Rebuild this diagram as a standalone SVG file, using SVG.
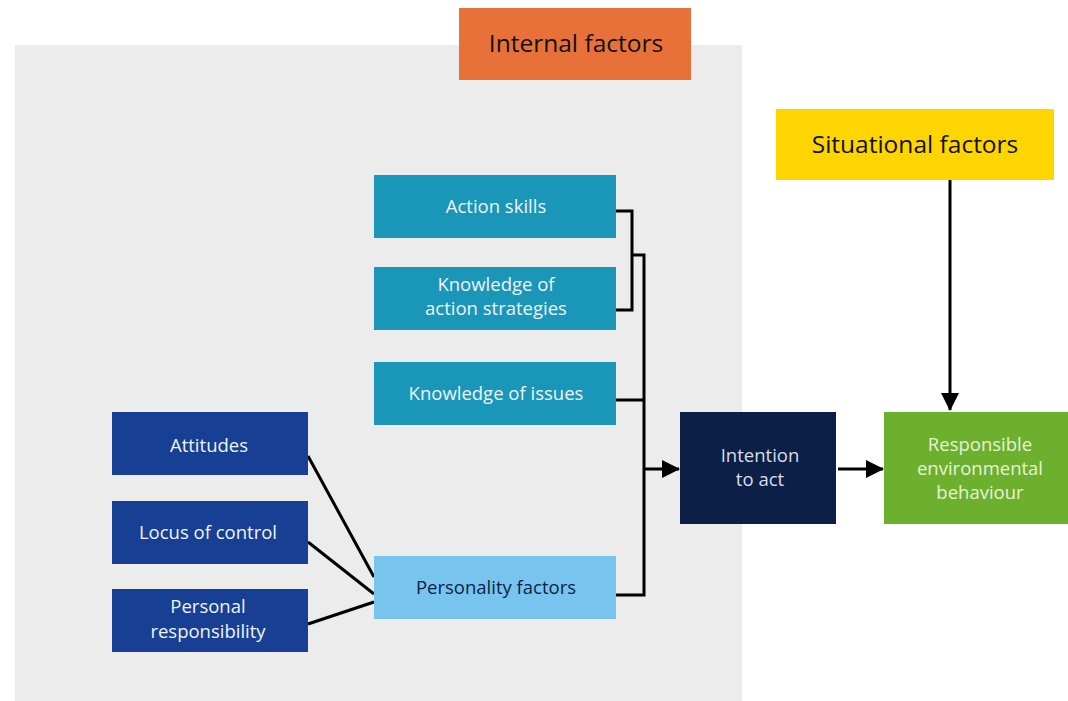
<svg xmlns="http://www.w3.org/2000/svg" width="1068" height="701" viewBox="0 0 1068 701">
  <style>
    .lbl { font-family: "Open Sans", "Noto Sans", "DejaVu Sans", sans-serif; font-size: 18.5px; fill: #eef3f6; text-anchor: middle; }
    .big { font-family: "Open Sans", "Noto Sans", "DejaVu Sans", sans-serif; font-size: 24.5px; fill: #111; text-anchor: middle; }
    .wire { fill: none; stroke: #000; stroke-width: 3; }
  </style>
  <defs>
    <marker id="head" markerWidth="18" markerHeight="18" refX="17" refY="9" orient="auto" markerUnits="userSpaceOnUse">
      <path d="M0,0 L18,9 L0,18 Z" fill="#000"/>
    </marker>
  </defs>

  <rect width="1068" height="701" fill="#ffffff"/>

  <!-- internal factors panel -->
  <rect id="internal-panel" x="15" y="45" width="727" height="656" fill="#ececec"/>

  <g id="internal-factors">
    <rect x="459" y="8" width="232" height="72" fill="#e8713a"/>
    <text class="big" x="576" y="52">Internal factors</text>
  </g>

  <g id="situational-factors">
    <rect x="776" y="109" width="278" height="71" fill="#ffd500"/>
    <text class="big" x="915" y="153">Situational factors</text>
  </g>

  <!-- connectors -->
  <g id="connectors">
    <path class="wire" d="M616,211 H632 V310 H616"/>
    <path class="wire" d="M632,255 H644 V595 H616"/>
    <path class="wire" d="M616,400 H644"/>
    <path class="wire" d="M644,469 H679" marker-end="url(#head)"/>
    <path class="wire" d="M838,469 H883" marker-end="url(#head)"/>
    <path class="wire" d="M950,180 V410" marker-end="url(#head)"/>
    <path class="wire" d="M308,456 L374,577"/>
    <path class="wire" d="M308,542 L374,594"/>
    <path class="wire" d="M308,624 L374,602"/>
  </g>

  <g id="action-skills">
    <rect x="374" y="175" width="242" height="63" fill="#1a96b9"/>
    <text class="lbl" x="496" y="213">Action skills</text>
  </g>

  <g id="knowledge-action-strategies">
    <rect x="374" y="267" width="242" height="63" fill="#1a96b9"/>
    <text class="lbl" x="496" y="291">Knowledge of</text>
    <text class="lbl" x="496" y="315">action strategies</text>
  </g>

  <g id="knowledge-issues">
    <rect x="374" y="362" width="242" height="63" fill="#1a96b9"/>
    <text class="lbl" x="496" y="400">Knowledge of issues</text>
  </g>

  <g id="personality-factors">
    <rect x="374" y="556" width="242" height="63" fill="#77c4ee"/>
    <text class="lbl" x="496" y="594" style="fill:#0c1f47">Personality factors</text>
  </g>

  <g id="attitudes">
    <rect x="112" y="412" width="196" height="63" fill="#173f94"/>
    <text class="lbl" x="209" y="452">Attitudes</text>
  </g>

  <g id="locus-of-control">
    <rect x="112" y="501" width="196" height="63" fill="#173f94"/>
    <text class="lbl" x="208" y="539">Locus of control</text>
  </g>

  <g id="personal-responsibility">
    <rect x="112" y="589" width="196" height="63" fill="#173f94"/>
    <text class="lbl" x="208" y="613">Personal</text>
    <text class="lbl" x="208" y="638">responsibility</text>
  </g>

  <g id="intention-to-act">
    <rect x="680" y="412" width="156" height="112" fill="#0c1f47"/>
    <text class="lbl" x="760" y="462" style="fill:#d8dde6">Intention</text>
    <text class="lbl" x="760" y="486" style="fill:#d8dde6">to act</text>
  </g>

  <g id="responsible-behaviour">
    <rect x="884" y="412" width="184" height="112" fill="#6db02e"/>
    <text class="lbl" x="980" y="451" style="fill:#e4f3d6">Responsible</text>
    <text class="lbl" x="980" y="475" style="fill:#e4f3d6">environmental</text>
    <text class="lbl" x="980" y="499" style="fill:#e4f3d6">behaviour</text>
  </g>
</svg>
